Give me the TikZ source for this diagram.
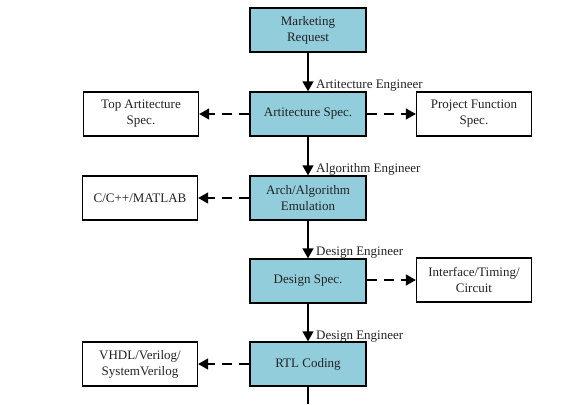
\documentclass[tikz,border=0pt]{standalone}
\usepackage{fontspec}
\setmainfont{Liberation Serif}
\usetikzlibrary{arrows.meta}
\definecolor{boxfill}{HTML}{92CDDC}
\definecolor{txt}{HTML}{222222}
\begin{document}
\begin{tikzpicture}[x=1pt,y=-1pt,
  mainbox/.style={draw=black,line width=1.3pt,fill=boxfill,minimum width=116pt,minimum height=44pt,inner sep=1pt,align=center,text=txt,font=\fontsize{13}{16}\selectfont},
  sidebox/.style={draw=black,line width=1.3pt,fill=white,minimum width=115pt,minimum height=44pt,inner sep=1pt,align=center,text=txt,font=\fontsize{13}{16}\selectfont},
  flow/.style={line width=1.3pt,-{Triangle[length=10pt,width=11pt]}},
  side/.style={line width=1.3pt,dash pattern=on 10pt off 7pt,-{Triangle[length=10pt,width=11pt]}},
  role/.style={anchor=base west,inner sep=0pt,text=txt,font=\fontsize{13}{16}\selectfont}]
\useasboundingbox (0,0) rectangle (580,404);
\node[mainbox] (mr) at (308,30) {Marketing\\Request};
\node[mainbox] (as) at (308,114) {Artitecture Spec.};
\node[mainbox] (ae) at (308,198) {Arch/Algorithm\\Emulation};
\node[mainbox] (ds) at (308,281) {Design Spec.};
\node[mainbox] (rtl) at (308,364) {RTL Coding};
\node[sidebox] (tas) at (141,114) {Top Artitecture\\Spec.};
\node[sidebox] (cpp) at (140,198) {C/C++/MATLAB};
\node[sidebox] (hdl) at (140,364) {VHDL/Verilog/\\SystemVerilog};
\node[sidebox] (pfs) at (474,114) {Project Function\\Spec.};
\node[sidebox] (itc) at (474,280) {Interface/Timing/\\Circuit};
\coordinate (bot) at (308,404);
\draw[flow] (mr) -- (as);
\draw[flow] (as) -- (ae);
\draw[flow] (ae) -- (ds);
\draw[flow] (ds) -- (rtl);
\draw[line width=1.3pt] (rtl) -- (bot);
\draw[side] (as) -- (tas);
\draw[side] (as) -- (pfs);
\draw[side] (ae) -- (cpp);
\draw[side] (ds.east |- itc) -- (itc);
\draw[side] (rtl) -- (hdl);
\node[role] (l1) at (316,88) {Artitecture Engineer};
\node[role] (l2) at (316,172) {Algorithm Engineer};
\node[role] (l3) at (316,255) {Design Engineer};
\node[role] (l4) at (316,339) {Design Engineer};
\end{tikzpicture}
\end{document}
